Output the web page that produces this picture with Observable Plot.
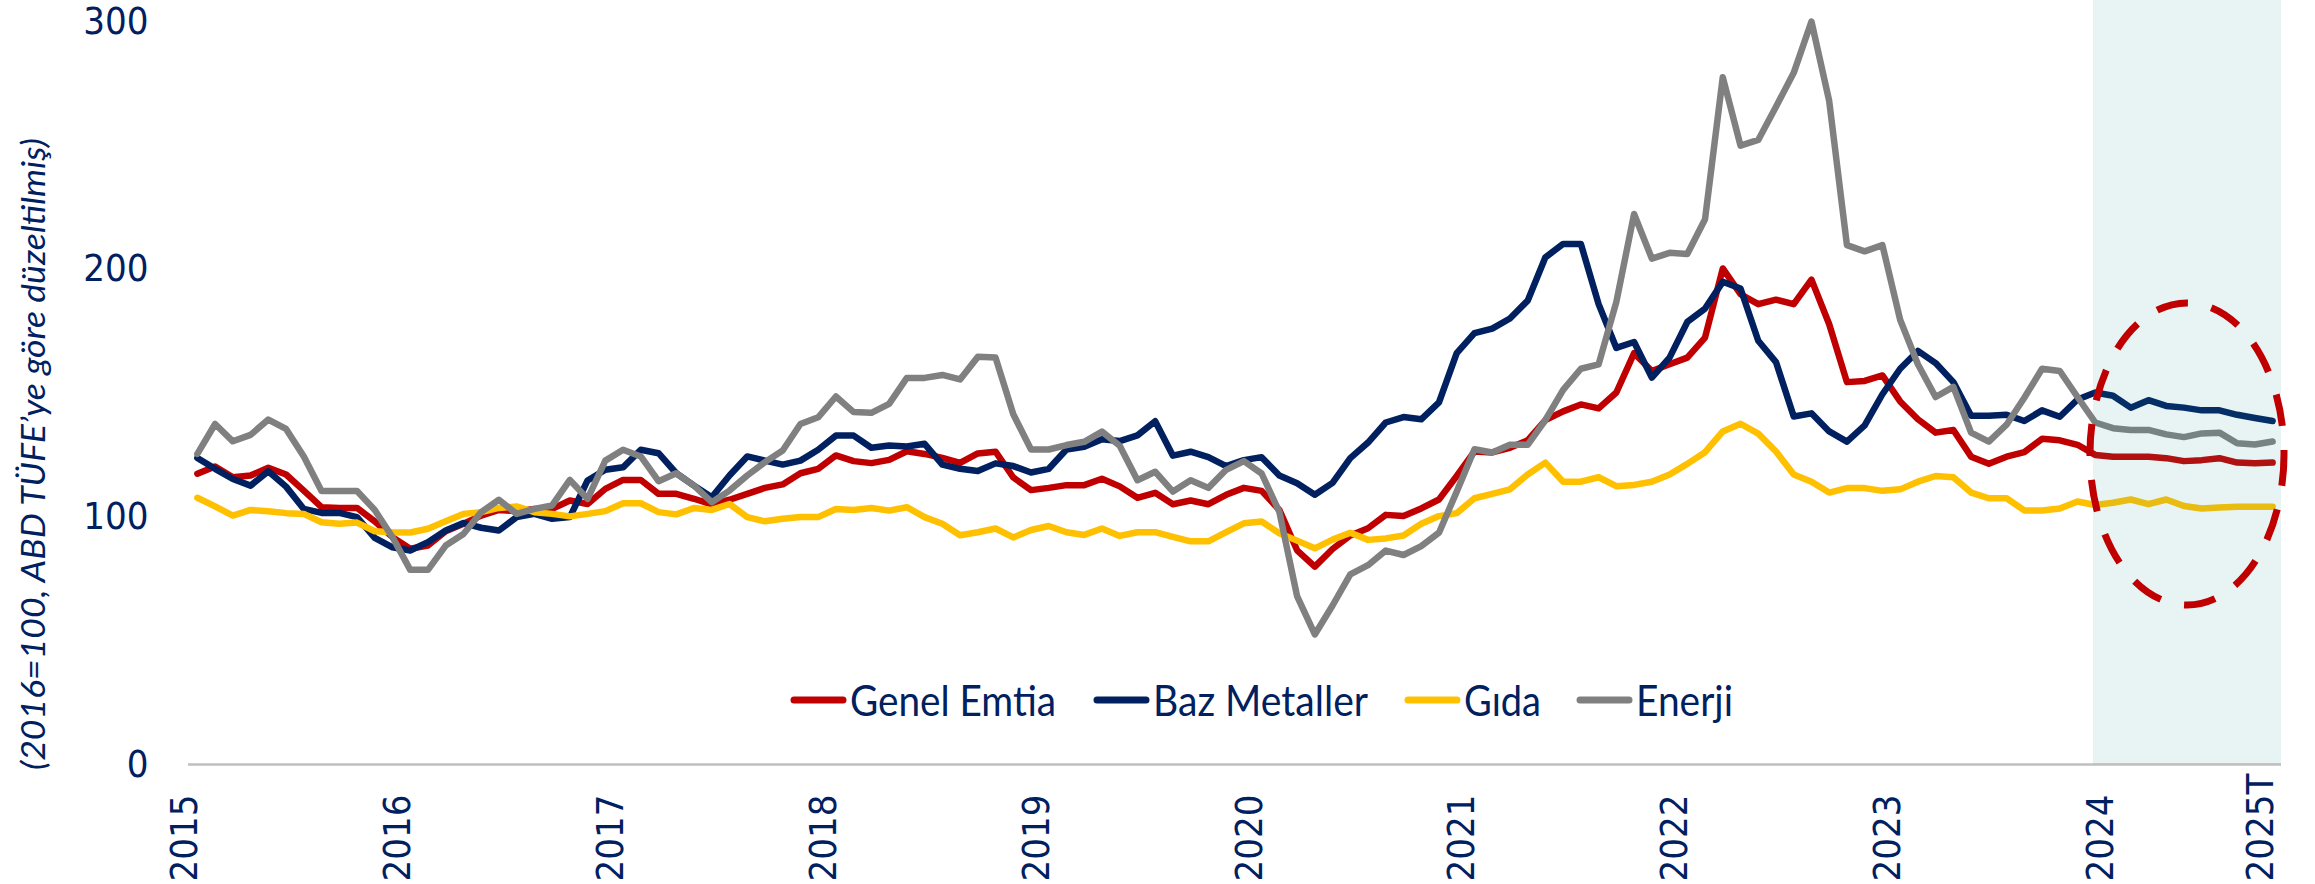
<!DOCTYPE html>
<html>
<head>
<meta charset="utf-8">
<script src="https://cdn.jsdelivr.net/npm/d3@7"></script>
<script src="https://cdn.jsdelivr.net/npm/@observablehq/plot@0.6"></script>
<style>
  html, body { margin: 0; padding: 0; background: #ffffff; }
  #chart { width: 2315px; height: 884px; }
</style>
</head>
<body>
<div id="chart"></div>
<script>
// ---------- DATA ----------
const seriesNames = ["Genel Emtia", "Baz Metaller", "Gıda", "Enerji"];
const seriesColors = ["#C00000", "#002060", "#FFC000", "#808080"];

// Monthly values, Jan 2015 onward (2016=100, US CPI deflated)
const genelEmtia = [117.4,120.3,116.0,116.7,119.8,117.1,110.6,103.9,103.6,103.6,
 98.2,91.8,87.1,88.4,94.2,97.2,100.5,102.8,102.3,103.2,
 103.2,106.6,105.2,111.3,114.9,114.9,109.3,109.3,107.3,105.0,
 106.9,109.3,111.7,113.1,117.6,119.4,124.8,122.5,121.7,123.0,
 126.5,125.4,123.8,121.8,125.6,126.3,115.9,110.8,111.7,112.8,
 112.8,115.4,112.3,107.7,109.7,105.1,106.6,105.1,108.9,111.7,
 110.5,102.8,86.5,79.9,87.0,92.5,95.4,100.8,100.3,103.4,
 107.0,116.5,126.4,126.0,127.9,130.9,139.1,142.6,145.4,143.8,
 150.2,166.1,158.9,161.6,164.3,172.4,200.3,189.9,185.9,187.7,
 185.9,195.8,177.8,154.4,154.9,157.1,146.6,139.4,134.0,135.1,
 124.3,121.4,124.3,126.1,131.5,130.9,129.1,125.0,124.3,124.3,
 124.3,123.7,122.5,122.9,123.7,121.9,121.6,121.9];

const bazMetaller = [123.8,119.4,115.3,112.6,118.4,112.2,103.2,101.6,101.6,99.9,
 91.5,87.7,86.4,89.8,94.5,97.5,95.6,94.5,99.9,101.2,
 99.2,99.9,114.7,119.0,120.0,127.1,125.7,117.6,112.6,107.9,
 116.7,124.4,122.7,121.1,122.7,127.1,132.8,132.8,127.9,128.8,
 128.4,129.5,121.1,119.4,118.5,121.6,120.5,117.9,119.4,127.2,
 128.3,131.3,130.6,132.9,138.6,124.7,126.3,124.1,120.5,122.9,
 124.1,116.7,113.6,108.9,113.7,123.7,130.0,138.1,140.3,139.4,
 146.2,166.1,174.2,176.0,180.1,187.3,204.8,210.2,210.2,185.9,
 168.2,170.6,156.2,164.3,178.7,184.1,194.9,192.2,171.1,162.5,
 140.5,141.8,134.5,130.4,136.9,149.5,159.8,167.0,162.1,154.4,
 140.8,140.8,141.2,138.7,143.0,140.4,147.4,150.2,148.9,144.1,
 147.1,144.8,144.1,143.0,143.0,141.2,139.9,138.7];

const gida = [107.7,104.2,100.5,102.8,102.3,101.5,101.2,97.8,97.2,97.7,
 94.2,93.8,93.7,95.2,98.2,101.2,101.9,103.6,104.2,101.9,
 101.2,100.2,101.2,102.3,105.5,105.5,101.9,101.0,103.6,102.8,
 105.2,99.9,98.2,99.2,99.9,99.9,103.2,102.8,103.6,102.5,
 103.9,99.9,97.2,92.6,93.8,95.3,91.7,94.7,96.3,93.8,
 92.7,95.3,92.3,93.8,93.8,91.9,90.1,90.1,93.8,97.4,
 98.1,93.4,90.4,87.3,90.8,93.6,90.7,91.3,92.5,97.2,
 100.3,101.5,107.5,109.3,111.1,117.1,121.9,114.2,114.2,116.0,
 112.4,112.9,114.2,117.1,121.4,126.1,134.5,137.6,133.6,126.4,
 117.1,114.2,109.8,111.6,111.6,110.5,111.1,114.2,116.5,116.0,
 109.8,107.5,107.5,102.6,102.6,103.4,106.2,104.8,105.7,107.0,
 105.1,107.0,104.4,103.4,103.8,104.1,104.1,104.1];

const enerji = [125.4,137.5,130.5,133.1,139.3,135.5,124.4,110.4,110.4,110.4,
 102.8,91.8,78.6,78.6,88.4,93.1,101.9,106.9,101.2,103.2,
 104.6,114.9,107.3,122.7,127.1,124.4,114.4,117.6,112.6,105.9,
 110.6,116.7,122.1,126.8,137.5,140.2,148.6,142.3,142.0,145.6,
 156.1,156.1,157.3,155.5,164.6,164.3,141.4,127.2,127.2,129.0,
 130.3,134.4,128.7,114.8,118.2,110.2,114.8,111.7,119.0,122.5,
 117.5,102.0,68.0,52.5,64.2,76.8,80.5,86.4,84.6,88.2,
 93.6,110.2,127.3,126.0,129.1,129.1,139.1,151.3,159.8,161.6,
 186.8,222.3,204.3,206.6,206.1,220.2,277.5,249.9,252.2,265.6,
 279.3,300.0,267.9,209.7,207.2,209.7,179.6,161.6,148.4,152.5,
 134.0,130.4,137.2,148.1,159.8,158.9,148.4,138.1,135.8,135.1,
 135.1,133.3,132.2,133.7,134.0,129.7,129.2,130.4];

const xTickLabels = ["2015","2016","2017","2018","2019","2020","2021","2022","2023","2024","2025T"];
const xTickIndex  = [0, 12, 24, 36, 48, 60, 72, 84, 96, 108, 117];
const yTicks = [0, 100, 200, 300];
const yTitle = "(2016=100, ABD TÜFE\u2019ye göre düzeltilmiş)";

// forecast shading (month index) and highlight ellipse (month index / index value)
const forecastSpan = [{start: 106.9, end: 117.5}];
const highlight = [{cx: 112.2, cy: 125.2, rx: 5.47, ry: 61}];

// ---------- BUILD ----------
const navy = "#002060";
const tickFont = "'DejaVu Sans Condensed', 'DejaVu Sans', Verdana, sans-serif";
const allSeries = [genelEmtia, bazMetaller, gida, enerji];
const rows = [];
seriesNames.forEach((name, s) => allSeries[s].forEach((v, i) => rows.push({series: name, i, v})));
const xTicks = xTickIndex.map((i, k) => ({i, label: xTickLabels[k]}));

const ellipseMark = (index, scales, values, dimensions, context) => {
  const g = d3.create("svg:g");
  for (const e of highlight) {
    const cx = scales.x(e.cx), cy = scales.y(e.cy);
    const rx = Math.abs(scales.x(e.cx + e.rx) - cx);
    const ry = Math.abs(scales.y(e.cy + e.ry) - cy);
    g.append("ellipse")
      .attr("cx", cx).attr("cy", cy).attr("rx", rx).attr("ry", ry)
      .attr("fill", "none").attr("stroke", "#C00000")
      .attr("stroke-width", 7).attr("stroke-dasharray", "32 24");
  }
  return g.node();
};

const chart = Plot.plot({
  width: 2315,
  height: 884,
  marginLeft: 188,
  marginRight: 34,
  marginTop: 0,
  marginBottom: 120,
  x: {domain: [-0.5, 117.5], axis: null},
  y: {domain: [0, 308.5]},
  color: {domain: seriesNames, range: seriesColors},
  style: {fontFamily: tickFont, background: "#ffffff", color: navy, overflow: "visible"},
  marks: [
    Plot.ruleY([0], {stroke: "#BFBFBF", strokeWidth: 2.5}),
    Plot.line(rows, {x: "i", y: "v", z: "series", stroke: "series", strokeWidth: 6.5, strokeLinejoin: "round", strokeLinecap: "round"}),
    Plot.rect(forecastSpan, {x1: "start", x2: "end", fill: "#309c9c", fillOpacity: 0.11}),
    ellipseMark,
    Plot.axisY(yTicks, {tickSize: 0, tickPadding: 40, fontSize: 38, fontFamily: tickFont, fill: navy, label: null}),
    Plot.text(xTicks, {x: "i", text: "label", frameAnchor: "bottom", rotate: -90, textAnchor: "start", dy: 117, fontSize: 38, fontFamily: tickFont, fill: navy})
  ]
});

document.getElementById("chart").appendChild(chart);

// legend inside plot + rotated y title
const svg = d3.select(chart);
const legendStart = [791, 1094, 1405, 1577];
const legendTextWidth = [206, 215, 77, 97];
const legendY = 700;
const lg = svg.append("g").attr("text-anchor", "start");
seriesNames.forEach((name, k) => {
  const x0 = legendStart[k];
  lg.append("line")
    .attr("x1", x0 + 3).attr("x2", x0 + 52).attr("y1", legendY).attr("y2", legendY)
    .attr("stroke", seriesColors[k]).attr("stroke-width", 7).attr("stroke-linecap", "round");
  lg.append("text")
    .attr("x", x0 + 59).attr("y", legendY)
    .attr("text-anchor", "start")
    .attr("dominant-baseline", "central")
    .attr("font-family", "Lato, 'Open Sans', sans-serif")
    .attr("font-size", 42)
    .attr("fill", navy)
    .attr("textLength", legendTextWidth[k])
    .attr("lengthAdjust", "spacingAndGlyphs")
    .text(name);
});
svg.append("text")
  .attr("transform", "translate(32,454) rotate(-90)")
  .attr("text-anchor", "middle")
  .attr("dominant-baseline", "central")
  .attr("font-family", "Lato, 'Open Sans', sans-serif")
  .attr("font-style", "italic")
  .attr("font-size", 32)
  .attr("fill", navy)
  .attr("textLength", 632)
  .attr("lengthAdjust", "spacingAndGlyphs")
  .text(yTitle);
</script>
</body>
</html>
